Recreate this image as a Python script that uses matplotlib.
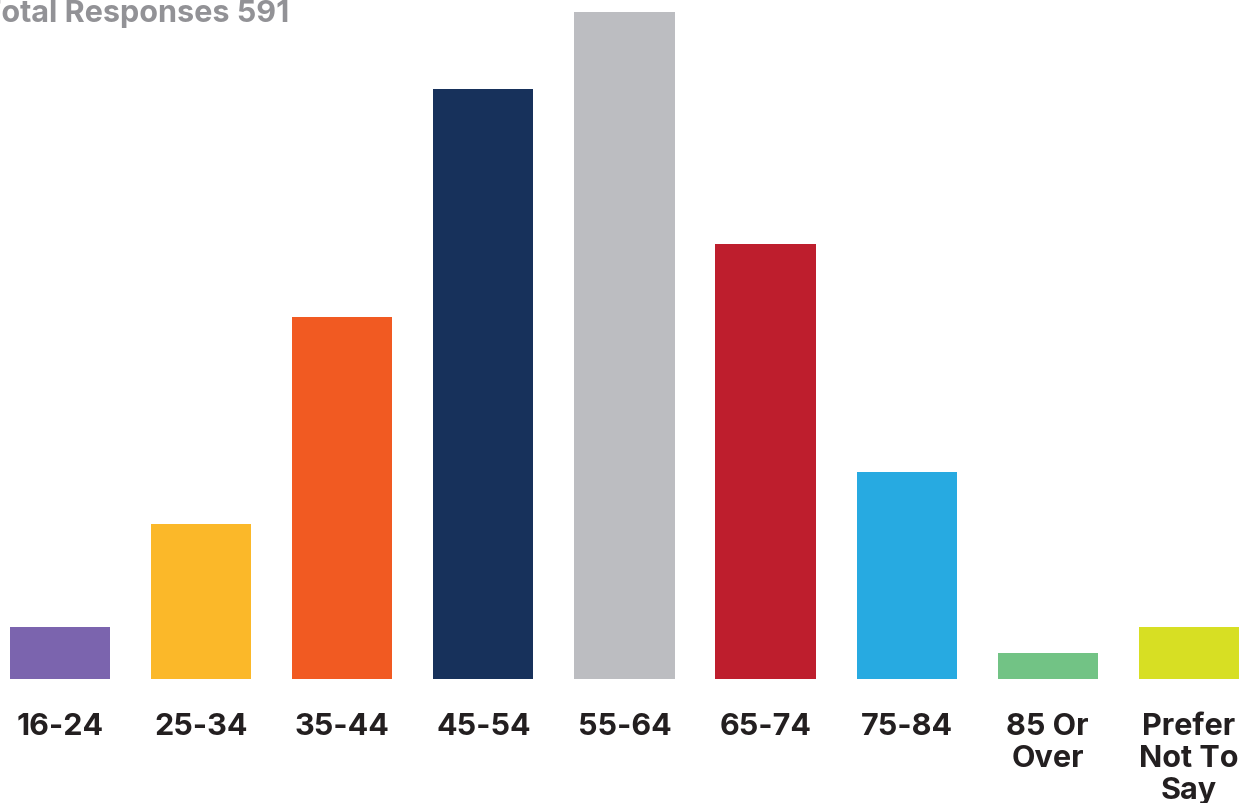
import matplotlib.pyplot as plt
import numpy as np

plt.rcParams['font.family'] = ['Inter', 'DejaVu Sans']

categories = ['16-24', '25-34', '35-44', '45-54', '55-64', '65-74', '75-84',
              '85 Or\nOver', 'Prefer\nNot To\nSay']
responses = [12, 36, 84, 137, 155, 101, 48, 6, 12]
colors = ['#7b64ae', '#fbb829', '#f15a22', '#17315b', '#bcbdc1',
          '#be1e2d', '#27aae1', '#72c385', '#d7df23']
total = 591

fig = plt.figure(figsize=(12.56, 8.04), dpi=100)
ax = fig.add_axes([0, 124 / 804, 1, 680 / 804])

x = np.arange(len(categories))
ax.bar(x, responses, width=0.71, color=colors)

ax.set_xlim(-0.426, 8.476)
ax.set_ylim(0, 158)
ax.set_xticks(x)
ax.set_xticklabels(categories, fontsize=22, fontweight='bold', color='#231f20',
                   linespacing=1.18)
ax.tick_params(axis='x', length=0, pad=24)
ax.set_yticks([])
for s in ax.spines.values():
    s.set_visible(False)

fig.text(-0.0155, 1 - 22 / 804, 'Total Responses %d' % total, fontsize=22,
         fontweight='bold', color='#929296', va='baseline', ha='left')

fig.savefig('out.png', dpi=100)
